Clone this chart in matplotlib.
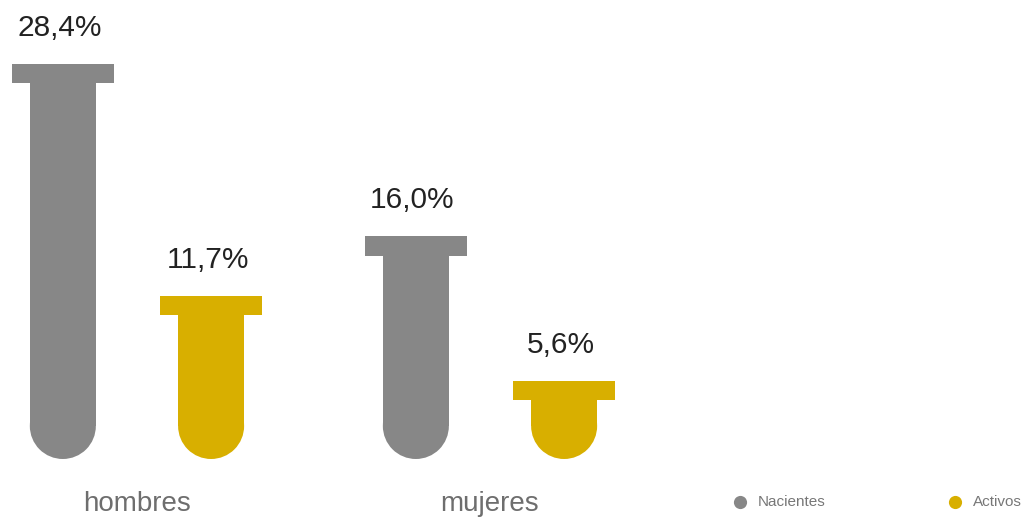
import matplotlib
matplotlib.use('Agg')
import matplotlib.pyplot as plt
from matplotlib.patches import Ellipse

plt.rcParams['font.family'] = ['Liberation Sans Narrow', 'Liberation Sans', 'DejaVu Sans']

# data
groups = ['hombres', 'mujeres']
series = ['Nacientes', 'Activos']
values = {'Nacientes': [28.4, 16.0], 'Activos': [11.7, 5.6]}
labels = {'Nacientes': ['28,4%', '16,0%'], 'Activos': ['11,7%', '5,6%']}
colors = {'Nacientes': '#878787', 'Activos': '#D8AF00'}

offsets = {'Nacientes': -0.21, 'Activos': 0.21}
body_w = 0.187
cap_w = 0.289
cap_h = 1.37
r_y = 2.37

fig = plt.figure(figsize=(10.34, 5.22), dpi=100)
ax = fig.add_axes([0, 0, 1, 1])
ax.set_xlim(-0.388, 2.541)
ax.set_ylim(-4.53, 33.0)
ax.axis('off')

for s in series:
    for i, v in enumerate(values[s]):
        x = i + offsets[s]
        c = colors[s]
        # tube body
        ax.bar(x, v - r_y, bottom=r_y, width=body_w, color=c, linewidth=0)
        # rounded bottom
        ax.add_patch(Ellipse((x, r_y), body_w, 2 * r_y, color=c, linewidth=0))
        # cap
        ax.bar(x, cap_h, bottom=v - cap_h, width=cap_w, color=c, linewidth=0)
        ax.text(x - 0.01, v + 1.6, labels[s][i], ha='center', va='bottom',
                fontsize=21.5, color='#222222')

for i, g in enumerate(groups):
    ax.text(i, -3.25, g, ha='center', va='center', fontsize=20, color='#6e6e6e')

# legend
leg_x = {'Nacientes': 1.708, 'Activos': 2.317}
for s in series:
    ax.scatter(leg_x[s], -3.1, s=90, color=colors[s], linewidth=0)
    ax.text(leg_x[s] + 0.05, -3.1, s, ha='left', va='center', fontsize=11,
            color='#777777')

plt.savefig('out.png', dpi=100)
